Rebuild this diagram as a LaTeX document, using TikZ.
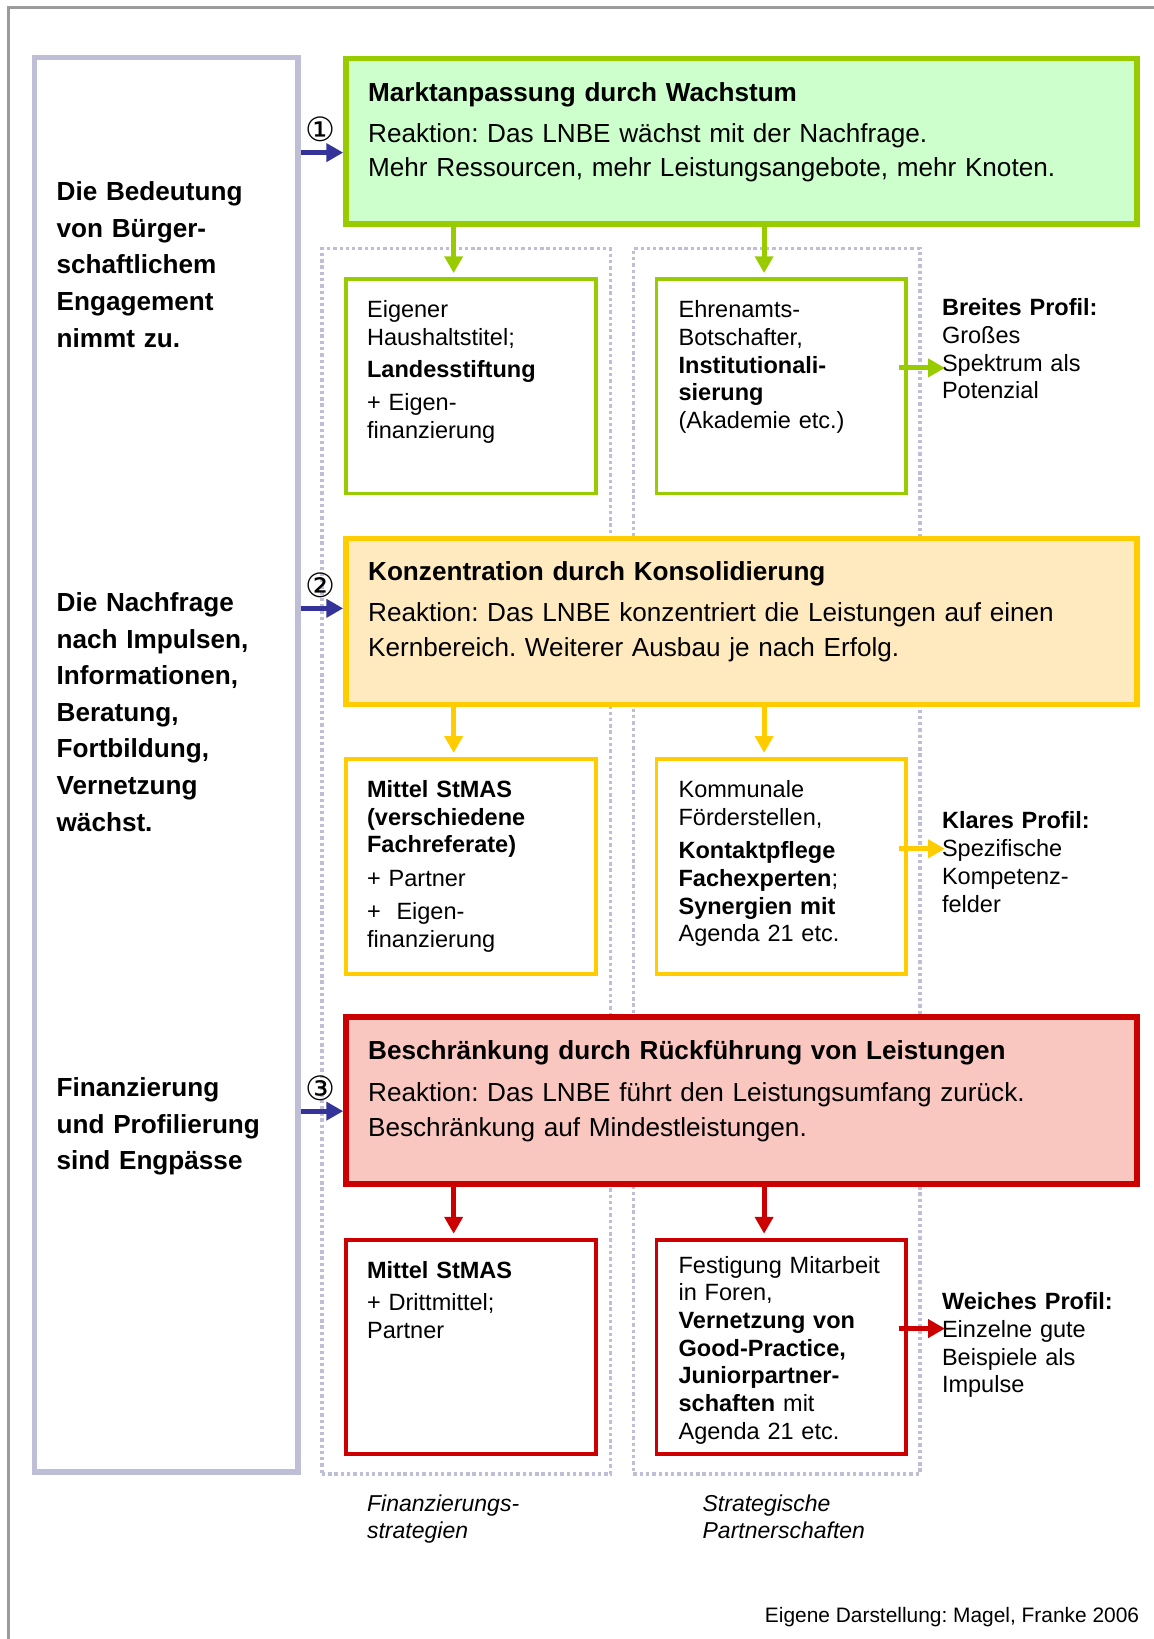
\documentclass[tikz,border=0pt]{standalone}
\usepackage{fontspec}
\setmainfont{Liberation Sans}
\newfontfamily\symfont{DejaVu Sans}
\usetikzlibrary{arrows.meta,calc}
\frenchspacing
\definecolor{framegray}{RGB}{155,155,155}
\definecolor{lav}{RGB}{190,190,215}
\definecolor{gstroke}{RGB}{153,204,0}
\definecolor{gfill}{RGB}{204,255,204}
\definecolor{ystroke}{RGB}{255,204,0}
\definecolor{yfill}{RGB}{255,233,191}
\definecolor{rstroke}{RGB}{204,0,0}
\definecolor{rfill}{RGB}{249,198,192}
\definecolor{barrowc}{RGB}{51,51,153}
\begin{document}
\begin{tikzpicture}[x=1pt,y=-1pt,
  mainbox/.style={draw, line width=5.4pt, minimum width=757pt, inner sep=0pt},
  subbox/.style={draw, line width=3.5pt, fill=white, minimum width=239pt, minimum height=205pt, inner sep=0pt},
  dotbox/.style={draw=lav, line width=3.2pt, dash pattern=on 3.2pt off 2.8pt, minimum height=1172pt, inner sep=0pt},
  arr/.style={line width=4.8pt, -{Triangle[length=16pt,width=17pt]}},
  txt/.style={anchor=base west, inner sep=0pt, align=left, text width=300pt},
  maintxt/.style={txt, font=\fontsize{25}{33}\selectfont, text width=740pt},
  lefttxt/.style={txt, font=\fontsize{25}{35}\selectfont\bfseries, text width=230pt},
  smalltxt/.style={txt, font=\fontsize{22.5}{26.5}\selectfont, text width=230pt},
  numtxt/.style={inner sep=0pt, font=\symfont\fontsize{32}{32}\selectfont}
]
\useasboundingbox (0,0) rectangle (1104,1568);
% outer frame (top and left edges)
\draw[framegray, line width=2.5pt] (8,1568) -- (8,7) -- (1104,7);

% dotted column frames
\node[dotbox, minimum width=276pt] (d1) at (446,824) {};
\node[dotbox, minimum width=274pt] (d2) at (743,824) {};

% left box
\node[draw=lav, line width=5.7pt, minimum width=252pt, minimum height=1353pt, inner sep=0pt] (L) at (159,731.5) {};

% main boxes
\node[mainbox, fill=gfill, draw=gstroke, minimum height=158pt] (m1) at (709.5,135) {};
\node[mainbox, fill=yfill, draw=ystroke, minimum height=159pt] (m2) at (709.5,594.5) {};
\node[mainbox, fill=rfill, draw=rstroke, minimum height=160pt] (m3) at (709.5,1053) {};

% sub boxes
\node[subbox, draw=gstroke] (g1) at (450.5,369.5) {};
\node[subbox, draw=gstroke] (g2) at (747.5,369.5) {};
\node[subbox, draw=ystroke, minimum height=206pt] (y1) at (450.5,829) {};
\node[subbox, draw=ystroke, minimum height=206pt] (y2) at (747.5,829) {};
\node[subbox, draw=rstroke] (r1) at (450.5,1288.5) {};
\node[subbox, draw=rstroke] (r2) at (747.5,1288.5) {};

% vertical arrows
\coordinate (cx1) at (434,0);
\coordinate (cx2) at (731,0);
\draw[arr, gstroke, shorten >=4pt] (cx1 |- m1.south) -- (cx1 |- g1.north);
\draw[arr, gstroke, shorten >=4pt] (cx2 |- m1.south) -- (cx2 |- g2.north);
\draw[arr, ystroke, shorten >=4pt] (cx1 |- m2.south) -- (cx1 |- y1.north);
\draw[arr, ystroke, shorten >=4pt] (cx2 |- m2.south) -- (cx2 |- y2.north);
\draw[arr, rstroke, shorten >=4pt] (cx1 |- m3.south) -- (cx1 |- r1.north);
\draw[arr, rstroke, shorten >=4pt] (cx2 |- m3.south) -- (cx2 |- r2.north);

% blue arrows with circled numbers
\coordinate (b1) at (0,146);
\coordinate (b2) at (0,582);
\coordinate (b3) at (0,1063);
\draw[arr, barrowc] (L.east |- b1) -- (m1.west |- b1);
\draw[arr, barrowc] (L.east |- b2) -- (m2.west |- b2);
\draw[arr, barrowc] (L.east |- b3) -- (m3.west |- b3);
\node[numtxt] (n1) at (307,124) {①};
\node[numtxt] (n2) at (307,560) {②};
\node[numtxt] (n3) at (307,1041) {③};

% side profile texts
\node[smalltxt] (p1) at (901,302) {\textbf{Breites Profil:}\\Großes\\Spektrum als\\Potenzial};
\node[smalltxt] (p2) at (901,793) {\textbf{Klares Profil:}\\Spezifische\\Kompetenz-\\felder};
\node[smalltxt] (p3) at (901,1253) {\textbf{Weiches Profil:}\\Einzelne gute\\Beispiele als\\Impulse};
\coordinate (s1) at (904,352);
\coordinate (s2) at (904,812);
\coordinate (s3) at (904,1271);
\draw[arr, gstroke] ($(g2.east |- s1)+(-9,0)$) -- (s1);
\draw[arr, ystroke] ($(y2.east |- s2)+(-9,0)$) -- (s2);
\draw[arr, rstroke] ($(r2.east |- s3)+(-9,0)$) -- (s3);

% main box texts
\node[maintxt] (t1) at (352,97) {\textbf{Marktanpassung durch Wachstum}\\[6pt]Reaktion: Das LNBE wächst mit der Nachfrage.\\Mehr Ressourcen, mehr Leistungsangebote, mehr Knoten.};
\node[maintxt] (t2) at (352,555) {\textbf{Konzentration durch Konsolidierung}\\[7pt]Reaktion: Das LNBE konzentriert die Leistungen auf einen\\Kernbereich. Weiterer Ausbau je nach Erfolg.};
\node[maintxt] (t3) at (352,1014) {\textbf{Beschränkung durch Rückführung von Leistungen}\\[7pt]Reaktion: Das LNBE führt den Leistungsumfang zurück.\\Beschränkung auf Mindestleistungen.};

% left box texts
\node[lefttxt] (l1) at (54,192) {Die Bedeutung\\von Bürger-\\schaftlichem\\Engagement\\nimmt zu.};
\node[lefttxt] (l2) at (54,585) {Die Nachfrage\\nach Impulsen,\\Informationen,\\Beratung,\\Fortbildung,\\Vernetzung\\wächst.};
\node[lefttxt] (l3) at (54,1049) {Finanzierung\\und Profilierung\\sind Engpässe};

% sub box texts
\node[smalltxt] (tg1) at (351,304) {Eigener\\Haushaltstitel;\\[4.5pt]\textbf{Landesstiftung}\\[5pt]+ Eigen-\\finanzierung};
\node[smalltxt] (tg2) at (649,304) {Ehrenamts-\\Botschafter,\\\textbf{Institutionali-}\\\textbf{sierung}\\(Akademie etc.)};
\node[smalltxt] (ty1) at (351,763) {\textbf{Mittel StMAS}\\\textbf{(verschiedene}\\\textbf{Fachreferate)}\\[5.5pt]+ Partner\\[5.5pt]+~ Eigen-\\finanzierung};
\node[smalltxt] (ty2) at (649,763) {Kommunale\\Förderstellen,\\[5.5pt]\textbf{Kontaktpflege}\\\textbf{Fachexperten};\\\textbf{Synergien mit}\\Agenda 21 etc.};
\node[smalltxt] (tr1) at (351,1223) {\textbf{Mittel StMAS}\\[4.5pt]+ Drittmittel;\\Partner};
\node[smalltxt] (tr2) at (649,1218) {Festigung Mitarbeit\\in Foren,\\\textbf{Vernetzung von}\\\textbf{Good-Practice,}\\\textbf{Juniorpartner-}\\\textbf{schaften} mit\\Agenda 21 etc.};

% column captions
\node[txt, font=\fontsize{22}{26}\selectfont\itshape] (c1) at (351,1446) {Finanzierungs-\\strategien};
\node[txt, font=\fontsize{22}{26}\selectfont\itshape] (c2) at (672,1446) {Strategische\\Partnerschaften};

% source line
\node[anchor=base east, inner sep=0pt, font=\fontsize{20}{24}\selectfont] (src) at (1090,1552) {Eigene Darstellung: Magel, Franke 2006};
\end{tikzpicture}
\end{document}
